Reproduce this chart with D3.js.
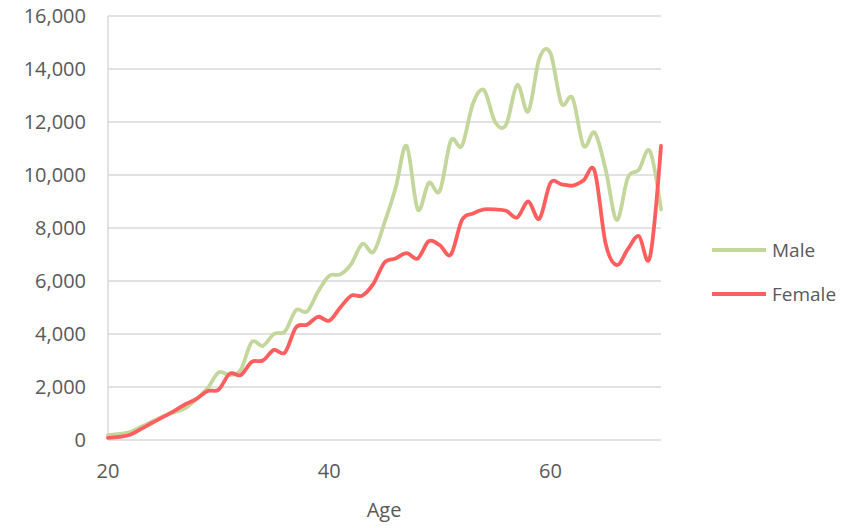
<!DOCTYPE html>
<html><head><meta charset="utf-8">
<script src="https://cdn.jsdelivr.net/npm/d3@7"></script>
<style>body{margin:0;background:#fff}svg{display:block}text{font-family:"Open Sans",sans-serif;fill:#595959}</style>
</head><body><svg id="c" width="856" height="528"></svg>
<script>
const ages = d3.range(20, 71);
const male = [180,230,300,500,700,900,1050,1200,1550,1950,
  2550,2450,2650,3700,3550,4000,4100,4900,4850,5600,
  6200,6250,6650,7400,7100,8200,9500,11100,8700,9700,
  9400,11300,11100,12700,13200,12000,11900,13400,12400,14400,
  14600,12700,12900,11100,11600,10200,8300,9900,10200,10900,8700];
const female = [80,120,200,420,650,870,1100,1350,1550,1850,
  1900,2500,2450,2950,3000,3400,3300,4250,4350,4650,
  4500,5000,5450,5450,5900,6700,6850,7050,6850,7500,
  7350,7000,8300,8550,8700,8700,8650,8400,9000,8350,
  9700,9650,9600,9800,10150,7400,6600,7200,7700,6900,11100];
const yTicks = [0,2000,4000,6000,8000,10000,12000,14000,16000];
const xTicks = [20,40,60];
const seriesNames = ["Male","Female"];
const colors = ["#c3d69b","#ff5e5e"];

const svg = d3.select("#c");
const x = d3.scaleLinear().domain([20,70]).range([108,661]);
const y = d3.scaleLinear().domain([0,16000]).range([440,16]);

svg.append("g").selectAll("line").data(yTicks.filter(d=>d>0)).join("line")
  .attr("x1",108).attr("x2",661).attr("y1",d=>y(d)).attr("y2",d=>y(d))
  .attr("stroke","#d9d9d9").attr("stroke-width",1.5);
svg.append("line").attr("x1",108).attr("x2",108).attr("y1",16).attr("y2",440).attr("stroke","#d9d9d9").attr("stroke-width",1.5);
svg.append("line").attr("x1",108).attr("x2",661).attr("y1",440).attr("y2",440).attr("stroke","#d9d9d9").attr("stroke-width",1.5);

svg.append("g").selectAll("text").data(yTicks).join("text")
  .attr("x",86).attr("y",d=>y(d)).attr("dy","0.35em").attr("text-anchor","end")
  .attr("font-size",20).text(d=>d3.format(",")(d));
svg.append("g").selectAll("text").data(xTicks).join("text")
  .attr("x",d=>x(d)).attr("y",471).attr("dy","0.35em").attr("text-anchor","middle")
  .attr("font-size",20).text(d=>d);
svg.append("text").attr("x",384).attr("y",510).attr("dy","0.35em").attr("text-anchor","middle")
  .attr("font-size",20).text("Age");

const line = d3.line().x((d,i)=>x(ages[i])).y(d=>y(d)).curve(d3.curveCardinal);
[male,female].forEach((s,k)=>{
  svg.append("path").datum(s).attr("d",line).attr("fill","none")
    .attr("stroke",colors[k]).attr("stroke-width",3.8).attr("stroke-linejoin","round").attr("stroke-linecap","round");
});

const lg = svg.append("g").selectAll("g").data(seriesNames).join("g")
  .attr("transform",(d,i)=>`translate(712,${250+i*44})`);
lg.append("line").attr("x1",0).attr("x2",54).attr("stroke",(d,i)=>colors[i]).attr("stroke-width",3.8);
lg.append("text").attr("x",60).attr("dy","0.35em").attr("font-size",19).text(d=>d);
</script></body></html>
